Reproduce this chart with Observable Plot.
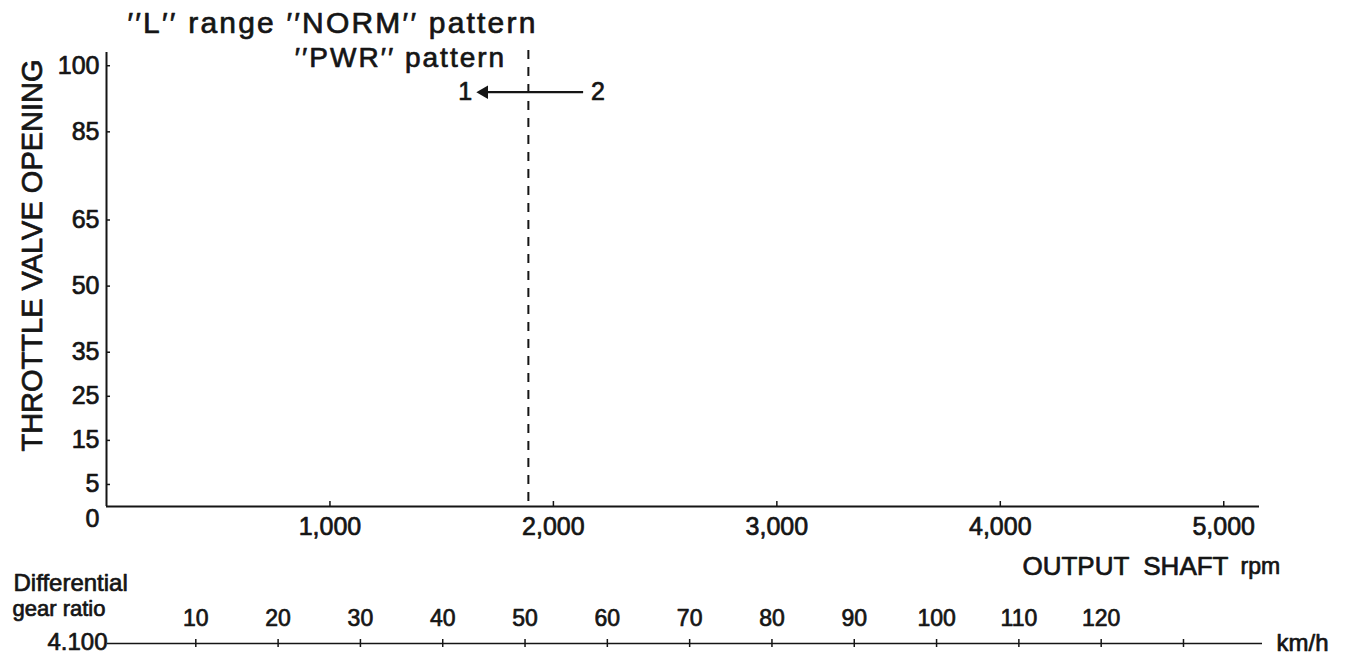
<!DOCTYPE html>
<html>
<head>
<meta charset="utf-8">
<script src="https://cdn.jsdelivr.net/npm/d3@7"></script>
<script src="https://cdn.jsdelivr.net/npm/@observablehq/plot@0.6"></script>
<style>
  html, body { margin: 0; padding: 0; background: #fff; }
  #chart svg { display: block; }
</style>
</head>
<body>
<div id="chart"></div>
<script>
// ---- data ----
const rpmTicks = [1000, 2000, 3000, 4000, 5000];
const throttleTicks = [5, 15, 25, 35, 50, 65, 85, 100];
const throttleZero = [0];
const kmhTicks = [10, 20, 30, 40, 50, 60, 70, 80, 90, 100, 110, 120, 130];
const kmhLabels = [10, 20, 30, 40, 50, 60, 70, 80, 90, 100, 110, 120];
const shiftRpm = [1888];             // dashed shift line (output shaft rpm)
const arrowFromRpm = [2133];         // "2"
const arrowToRpm = [1672];           // "1"
const arrowThrottle = [94];          // throttle % where the arrow is drawn
const Q = "\u2032\u2032";
const titleLines = [Q + "L" + Q + " range " + Q + "NORM" + Q + " pattern", Q + "PWR" + Q + " pattern"];
const yTitle = "THROTTLE VALVE OPENING";
const xTitle = "OUTPUT  SHAFT";
const xUnit = "rpm";
const ratioLines = ["Differential", "gear ratio"];
const ratioValue = "4.100";
const speedUnit = "km/h";

const arrows = arrowFromRpm.map((f, i) => ({from: f, to: arrowToRpm[i], t: arrowThrottle[i]}));

const FONT = "'Liberation Sans', Arial, Helvetica, sans-serif";
const INK = "#151515";
const TS = {stroke: INK, strokeWidth: 0.7, fill: INK, lineAnchor: "middle"};
const AX = {textStroke: INK, textStrokeWidth: 0.7, fill: INK, label: null};

const main = Plot.plot({
  width: 1350,
  height: 545,
  marginLeft: 106,
  marginRight: 91,
  marginTop: 52,
  marginBottom: 39,
  style: {fontFamily: FONT, color: INK, background: "white", overflow: "visible"},
  x: {domain: [0, 5160]},
  y: {domain: [0, 103]},
  marks: [
    // axis lines
    Plot.ruleX([0], {stroke: INK, strokeWidth: 2}),
    Plot.ruleY([0], {stroke: INK, strokeWidth: 2}),
    // inward tick marks
    Plot.ruleX(rpmTicks, {y1: 0, y2: 0, insetTop: -5, stroke: INK, strokeWidth: 1.5}),
    Plot.ruleY(throttleTicks, {x1: 0, x2: 0, insetRight: -4, stroke: INK, strokeWidth: 1.5}),
    // tick labels
    Plot.axisX(rpmTicks, {...AX, tickSize: 0, tickPadding: 11, tickFormat: d3.format(","), fontSize: 25}),
    Plot.axisY(throttleTicks, {...AX, tickSize: 0, tickPadding: 7, fontSize: 25}),
    Plot.axisY(throttleZero, {...AX, tickSize: 0, tickPadding: 7, dy: 12, fontSize: 25}),
    // y title
    Plot.text([yTitle], {...TS, frameAnchor: "left", textAnchor: "middle", rotate: -90, dx: -74, dy: -24, fontSize: 29}),
    // shift line
    Plot.ruleX(shiftRpm, {stroke: INK, strokeWidth: 2, strokeDasharray: "9,8", insetTop: -2, insetBottom: -2}),
    // shift arrow 2 -> 1
    Plot.link(arrows, {x1: "from", x2: "to", y1: "t", y2: "t", stroke: INK, strokeWidth: 2.2}),
    Plot.dot(arrows, {x: "to", y: "t", symbol: "triangle", rotate: -90, r: 5, fill: INK, dx: 4}),
    Plot.text(arrows, {...TS, x: "to", y: "t", text: () => "1", textAnchor: "end", dx: -8, fontSize: 25}),
    Plot.text(arrows, {...TS, x: "from", y: "t", text: () => "2", textAnchor: "start", dx: 8, fontSize: 25}),
    // pattern titles
    Plot.text([titleLines[0]], {...TS, frameAnchor: "top-left", textAnchor: "middle", dx: 226, dy: -29, fontSize: 30}),
    Plot.text([titleLines[1]], {...TS, frameAnchor: "top-left", textAnchor: "middle", dx: 294, dy: 6, fontSize: 28})
  ]
});

const speed = Plot.plot({
  width: 1350,
  height: 110,
  marginLeft: 113,
  marginRight: 88,
  marginTop: 10,
  marginBottom: 12,
  style: {fontFamily: FONT, color: INK, background: "white", overflow: "visible"},
  x: {domain: [0, 139.6], axis: null},
  y: {domain: [0, 1], axis: null},
  marks: [
    Plot.ruleY([0], {insetLeft: -6, stroke: INK, strokeWidth: 1.6}),
    Plot.ruleX(kmhTicks, {y1: 0, y2: 0, insetTop: -4, insetBottom: -4, stroke: INK, strokeWidth: 1.5}),
    Plot.text(kmhLabels, {...TS, x: d => d, frameAnchor: "bottom", dy: -25, fontSize: 23}),
    Plot.text([ratioValue], {...TS, frameAnchor: "bottom-left", textAnchor: "end", dx: -6, dy: -1, fontSize: 24}),
    Plot.text([ratioLines[1]], {...TS, frameAnchor: "bottom-left", textAnchor: "start", dx: -101, dy: -35, fontSize: 22}),
    Plot.text([ratioLines[0]], {...TS, frameAnchor: "bottom-left", textAnchor: "start", dx: -100, dy: -60, fontSize: 24}),
    Plot.text([speedUnit], {...TS, frameAnchor: "bottom-right", textAnchor: "start", dx: 14, fontSize: 24}),
    Plot.text([xTitle], {...TS, frameAnchor: "bottom-right", textAnchor: "end", dx: -34, dy: -77, fontSize: 26}),
    Plot.text([xUnit], {...TS, frameAnchor: "bottom-right", textAnchor: "start", dx: -22, dy: -77, fontSize: 23})
  ]
});

// slightly wider letter spacing on the two pattern captions, as in the original typesetting
main.querySelectorAll("text").forEach(t => {
  if (t.textContent === titleLines[0]) t.style.letterSpacing = "2.2px";
  if (t.textContent === titleLines[1]) t.style.letterSpacing = "2px";
});

document.getElementById("chart").append(main, speed);
</script>
</body>
</html>
